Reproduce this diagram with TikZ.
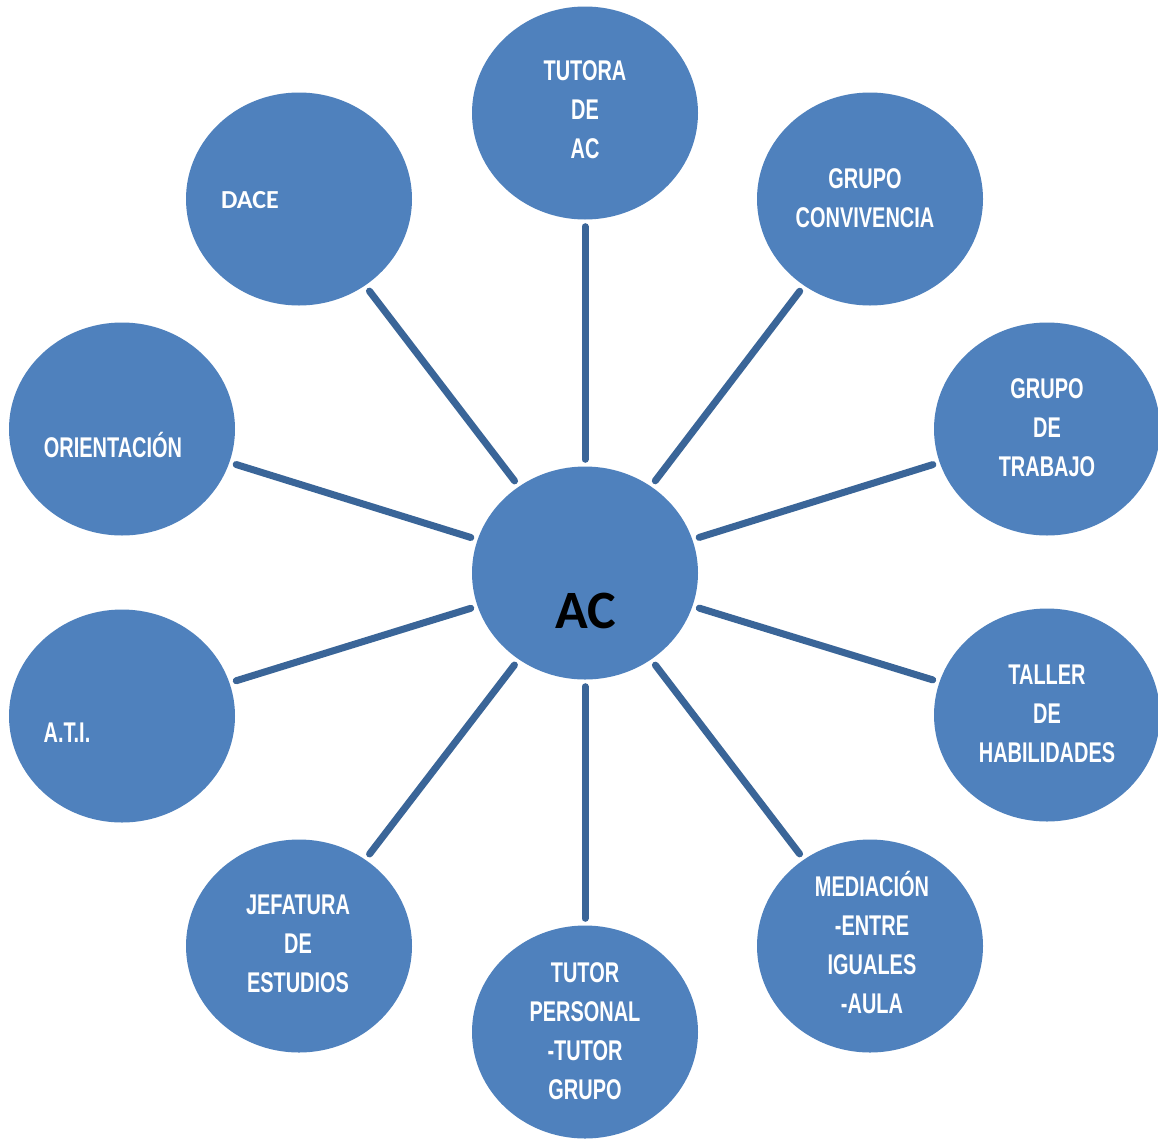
\documentclass[tikz,border=0pt]{standalone}
\usepackage{fontspec}
\usetikzlibrary{shapes.geometric}
\newfontfamily\condfont[FakeStretch=0.7]{Liberation Sans}
\newfontfamily\calfont{Carlito}
\definecolor{bubble}{HTML}{4F81BD}
\definecolor{spoke}{HTML}{3A6598}
\tikzset{
  bub/.style={ellipse, fill=bubble, draw=none, minimum width=226pt, minimum height=213pt, inner sep=0pt},
  lbl/.style={text=white, align=center, inner sep=0pt, font=\condfont\bfseries\fontsize{28.5}{39}\selectfont},
  conn/.style={draw=spoke, line width=7pt, line cap=round, shorten >=7pt, shorten <=7pt}
}
\begin{document}
\begin{tikzpicture}[x=1pt,y=-1pt]
\useasboundingbox (0,0) rectangle (1158,1138);
\clip (0,0) rectangle (1158,1138);
\fill[white] (0,0) rectangle (1158,1138);
% bubbles
\node[bub] (ac)  at (585,573) {};
\node[bub] (tut) at (585,113) {};
\node[bub] (gc)  at (870,199) {};
\node[bub] (gt)  at (1047,429) {};
\node[bub] (th)  at (1047,715) {};
\node[bub] (med) at (870,946) {};
\node[bub] (tp)  at (585,1032) {};
\node[bub] (je)  at (299,946) {};
\node[bub] (ati) at (122,716) {};
\node[bub] (ori) at (122,429) {};
\node[bub] (dace) at (299,199) {};
% connectors
\foreach \n in {tut,gc,gt,th,med,tp,je,ati,ori,dace}
  \draw[conn] (ac) -- (\n);
% labels
\node[text=black, inner sep=0pt, font=\calfont\bfseries\fontsize{54}{60}\selectfont] (acl) at (586,611) {AC};
\node[lbl] (tutl) at (585,110) {TUTORA\\DE\\AC};
\node[lbl] (gcl) at (865,198) {GRUPO\\CONVIVENCIA};
\node[lbl] (gtl) at (1047,428) {GRUPO\\DE\\TRABAJO};
\node[lbl] (thl) at (1047,714) {TALLER\\DE\\HABILIDADES};
\node[lbl] (medl) at (872,942) {MEDIACIÓN\\-ENTRE\\IGUALES\\-AULA};
\node[lbl] (tpl) at (585,1031) {TUTOR\\PERSONAL\\-TUTOR\\GRUPO};
\node[lbl] (jel) at (298,944) {JEFATURA\\DE\\ESTUDIOS};
\node[lbl] (atil) at (67,733) {A.T.I.};
\node[lbl] (oril) at (113,445) {ORIENTACIÓN};
\node[text=white, inner sep=0pt, font=\calfont\bfseries\fontsize{26}{30}\selectfont] (dacel) at (250,200) {DACE};
\end{tikzpicture}
\end{document}
